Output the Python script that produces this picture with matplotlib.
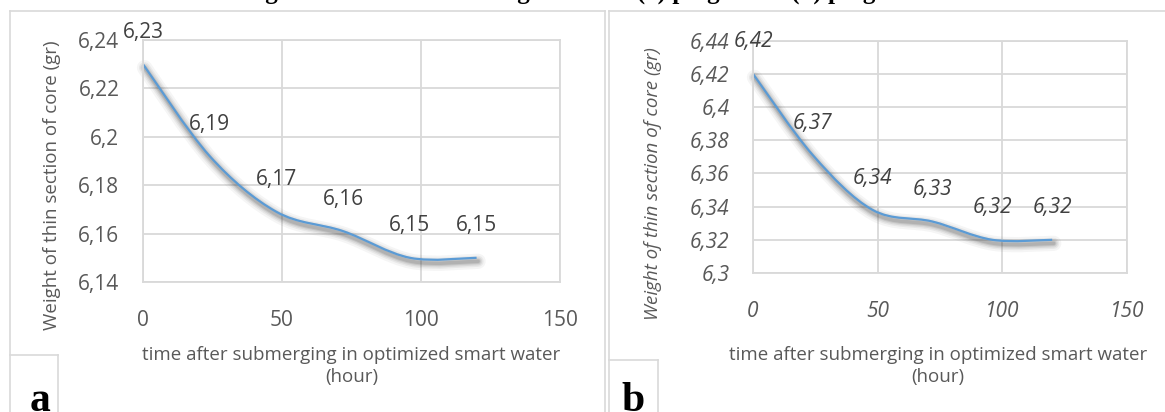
import matplotlib
matplotlib.use("Agg")
import matplotlib.pyplot as plt
import matplotlib.transforms as mtransforms
from matplotlib.path import Path
from matplotlib.patches import PathPatch
from matplotlib.lines import Line2D
from matplotlib.ticker import FuncFormatter, MultipleLocator

# ---------------- data ----------------
hours = [0, 24, 48, 72, 96, 120]
weight_a = [6.230, 6.192, 6.169, 6.161, 6.150, 6.150]
weight_b = [6.420, 6.371, 6.338, 6.331, 6.320, 6.320]
xlabel = "time after submerging in optimized smart water\n(hour)"
ylabel = "Weight of thin section of core (gr)"
caption = "Figure 6. Thin section weight of core (a) plug 5 and (b) plug 13"

W, H = 1165, 412
fig = plt.figure(figsize=(W / 100, H / 100), dpi=100)
FONT = "Open Sans"
TXT = "#595959"
GRID = "#d9d9d9"
LINE = "#5b9bd5"


def fx(px):
    return px / W


def fy(py):
    return 1 - py / H


def tick_fmt(v, pos):
    s = f"{v:.2f}".rstrip("0").rstrip(".")
    return s.replace(".", ",")


def smooth_path(xs, ys):
    n = len(xs)
    verts = [(xs[0], ys[0])]
    codes = [Path.MOVETO]
    for i in range(n - 1):
        x0, y0 = xs[max(i - 1, 0)], ys[max(i - 1, 0)]
        x1, y1 = xs[i], ys[i]
        x2, y2 = xs[i + 1], ys[i + 1]
        x3, y3 = xs[min(i + 2, n - 1)], ys[min(i + 2, n - 1)]
        c1 = (x1 + (x2 - x0) / 6, y1 + (y2 - y0) / 6)
        c2 = (x2 - (x3 - x1) / 6, y2 - (y3 - y1) / 6)
        verts += [c1, c2, (x2, y2)]
        codes += [Path.CURVE4] * 3
    return Path(verts, codes)


def panel(rect, xs, ys, ylim, italic):
    ax = fig.add_axes(rect)
    style = "italic" if italic else "normal"
    ax.set_xlim(0, 150)
    ax.set_ylim(*ylim)
    ax.xaxis.set_major_locator(MultipleLocator(50))
    ax.yaxis.set_major_locator(MultipleLocator(0.02))
    ax.yaxis.set_major_formatter(FuncFormatter(tick_fmt))
    ax.grid(True, color=GRID, lw=1.3)
    ax.set_axisbelow(True)
    for s in ax.spines.values():
        s.set_color(GRID)
        s.set_linewidth(1.3)
    ax.tick_params(length=0, pad=17, labelsize=15, labelcolor=TXT)
    ax.tick_params(axis="x", pad=20)
    for lab in ax.get_xticklabels() + ax.get_yticklabels():
        lab.set_fontfamily(FONT)
        lab.set_fontstyle(style)
    path = smooth_path(xs, ys)
    # blurred shadow
    for lw, a in [(11, 0.05), (8, 0.07), (6, 0.09), (4, 0.12), (2.5, 0.15)]:
        tr = ax.transData + mtransforms.Affine2D().translate(1.5, -3.5)
        ax.add_patch(PathPatch(path, fill=False, lw=lw, edgecolor="#404040",
                               alpha=a, transform=tr, capstyle="round",
                               joinstyle="round", clip_on=False))
    ax.add_patch(PathPatch(path, fill=False, lw=1.6, edgecolor=LINE,
                           transform=ax.transData, clip_on=False))
    for x, y in zip(xs, ys):
        ax.annotate(f"{y:.2f}".replace(".", ","), (x, y), xytext=(0, 23),
                    textcoords="offset points", ha="center", va="center",
                    fontsize=15, color="#404040", family=FONT,
                    fontstyle=style, annotation_clip=False)
    return ax


axa = panel([fx(143), fy(282), fx(560 - 143), (282 - 40) / H], hours, weight_a,
            (6.14, 6.24), False)
axb = panel([fx(753), fy(273), fx(1127 - 753), (273 - 40.7) / H], hours, weight_b,
            (6.30, 6.44), True)

# axis titles
for cx, italic, ycx in [(52, False, 185), (653, True, 184)]:
    fig.text(fx(cx), fy(ycx), ylabel, rotation=90, ha="center", va="center",
             fontsize=13.5, color=TXT, family=FONT,
             fontstyle="italic" if italic else "normal")
for cx in [(143 + 560) / 2, (753 + 1127) / 2 - 2]:
    fig.text(fx(cx), fy(366), xlabel, ha="center", va="center", fontsize=13.5,
             color=TXT, family=FONT, linespacing=1.35)

# panel frames
frame_kw = dict(color=GRID, lw=1.2, transform=fig.transFigure)
segs = [
    ((10, 10), (11, 412)), ((10, 605), (11, 11)), ((605, 605), (11, 412)),
    ((609, 609), (11, 412)), ((609, 1165), (11, 11)),
    ((10, 58), (355, 355)), ((58, 58), (355, 412)),
    ((609, 658), (360, 360)), ((658, 658), (360, 412)),
]
for (x0, x1), (y0, y1) in segs:
    fig.add_artist(Line2D([fx(x0), fx(x1)], [fy(y0), fy(y1)], **frame_kw))

for cx, lab in [(40, "a"), (633, "b")]:
    fig.text(fx(cx), fy(411), lab, ha="center", va="baseline", fontsize=30,
             fontweight="bold", family="Liberation Serif", color="black")

# caption (cut off at the top edge)
fig.text(fx(243), fy(-1.5), caption, ha="left", va="baseline", fontsize=18,
         fontweight="bold", family="Liberation Serif", color="black")

fig.savefig("out.png", dpi=100)
